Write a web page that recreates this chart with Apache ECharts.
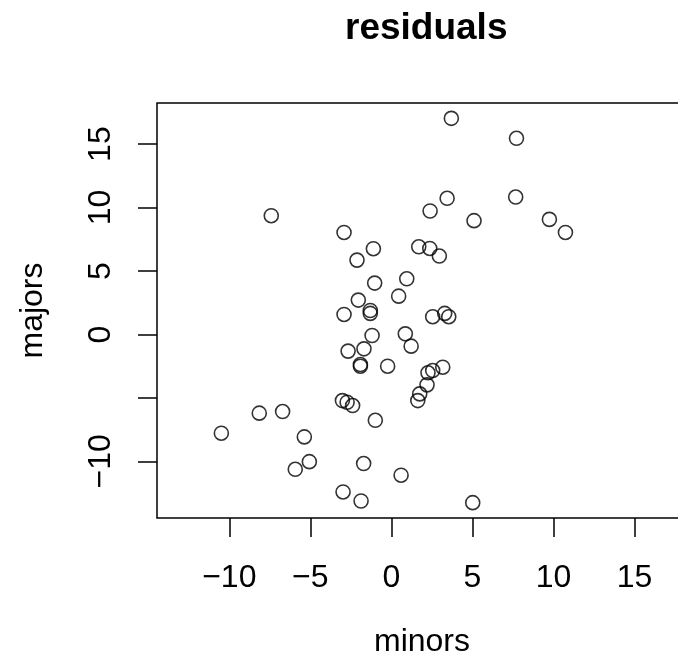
<!DOCTYPE html>
<html>
<head>
<meta charset="utf-8">
<script src="https://cdn.jsdelivr.net/npm/echarts@6/dist/echarts.min.js"></script>
<style>html,body{margin:0;padding:0;background:#fff}#c{width:678px;height:669px}</style>
</head>
<body>
<div id="c"></div>
<script>
const minors = [3.70, 7.72, 3.44, 2.39, 7.67, 5.10, 9.75, 10.74, 1.69, 2.37, 2.96, 0.95, 0.45,
  -7.41, -2.92, -1.11, -2.12, -1.03, -2.04, -2.92, -1.30, -1.30, -1.19, 0.86, 1.22,
  -2.67, -1.69, -1.91, -1.91, -0.23, -3.02, -2.73, -2.39, -0.99, -10.49, -8.15, -6.71,
  -5.37, -5.06, -5.93, -1.71, 0.60, -2.98, -1.87, 2.55, 3.29, 3.54, 3.17, 2.55, 2.26,
  2.20, 1.75, 1.63, 5.02];
const majors = [17.03, 15.46, 10.73, 9.73, 10.83, 8.97, 9.07, 8.04, 6.91, 6.78, 6.18, 4.39, 3.02,
  9.36, 8.04, 6.76, 5.86, 4.05, 2.71, 1.58, 1.89, 1.66, -0.08, 0.05, -0.92,
  -1.31, -1.13, -2.37, -2.50, -2.50, -5.21, -5.34, -5.60, -6.76, -7.78, -6.20, -6.07,
  -8.07, -10.02, -10.62, -10.17, -11.09, -12.41, -13.12, 1.40, 1.66, 1.40, -2.58, -2.84, -3.02,
  -3.97, -4.68, -5.21, -13.25];
const xTicks = [-10, -5, 0, 5, 10, 15];
const yTicks = [-10, -5, 0, 5, 10, 15];
const yTickLabels = [-10, 0, 5, 10, 15];
const axisLimits = [-14.46, 18.24];

const pts = minors.map((x, i) => [x, majors[i]]);
const fmt = v => (v < 0 ? '\u2212' + Math.abs(v) : String(v));
const font = '"Liberation Sans", Arial, Helvetica, sans-serif';

const chart = echarts.init(document.getElementById('c'), null, {renderer: 'canvas'});
chart.setOption({
  animation: false,
  backgroundColor: '#fff',
  title: {
    text: 'residuals', left: 340, top: 5,
    textStyle: {fontFamily: font, fontSize: 37, fontWeight: 'bold', color: '#000'}
  },
  grid: {
    left: 157, top: 103, width: 530, height: 415,
    outerBoundsMode: 'none', containLabel: false,
    show: true, borderColor: '#000', borderWidth: 1.5, backgroundColor: 'transparent'
  },
  xAxis: {
    type: 'value', min: axisLimits[0], max: axisLimits[1],
    name: 'minors', nameLocation: 'middle', nameGap: 108,
    nameTextStyle: {fontFamily: font, fontSize: 32, color: '#000'},
    axisLine: {show: false, onZero: false},
    splitLine: {show: false},
    axisTick: {show: true, inside: false, length: 19, customValues: xTicks,
      lineStyle: {color: '#000', width: 1.5}},
    axisLabel: {show: true, customValues: xTicks, margin: 44, formatter: fmt,
      fontFamily: font, fontSize: 32, color: '#000'}
  },
  yAxis: {
    type: 'value', min: axisLimits[0], max: axisLimits[1],
    name: 'majors', nameLocation: 'middle', nameGap: 108, nameRotate: 90,
    nameTextStyle: {fontFamily: font, fontSize: 32, color: '#000'},
    axisLine: {show: false, onZero: false},
    splitLine: {show: false},
    axisTick: {show: true, inside: false, length: 19, customValues: yTicks,
      lineStyle: {color: '#000', width: 1.5}},
    axisLabel: {show: true, customValues: yTickLabels, margin: 40, rotate: 90, formatter: fmt,
      fontFamily: font, fontSize: 32, color: '#000'}
  },
  series: [{
    type: 'scatter',
    data: pts,
    symbol: 'circle',
    symbolSize: 14,
    itemStyle: {color: 'rgba(0,0,0,0)', borderColor: '#000', borderWidth: 1.6},
    emphasis: {disabled: true}
  }]
});
</script>
</body>
</html>
